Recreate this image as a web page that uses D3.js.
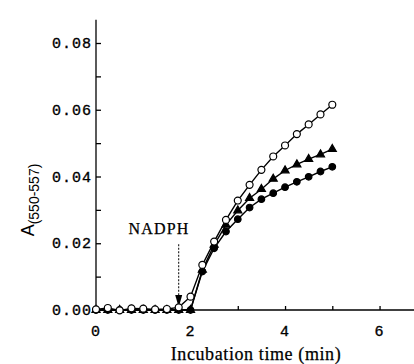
<!DOCTYPE html>
<html>
<head>
<meta charset="utf-8">
<script src="https://cdn.jsdelivr.net/npm/d3@7"></script>
<style>
  body { margin: 0; background: #fff; }
  svg { display: block; }
  .tick-num { font-family: "Liberation Mono", "DejaVu Sans Mono", monospace; font-size: 15px; letter-spacing: 1px; stroke: #000; stroke-width: 0.35px; }
  .serif { font-family: "Liberation Serif", "Times New Roman", serif; stroke: #000; stroke-width: 0.25px; }
</style>
</head>
<body>
<div id="chart"></div>
<script>
;(function (window, document, undefined) {

  'use strict';

  // incubation time (min), one point every 0.25 min
  var times = [0, 0.25, 0.5, 0.75, 1, 1.25, 1.5, 1.75, 2, 2.25, 2.5, 2.75,
               3, 3.25, 3.5, 3.75, 4, 4.25, 4.5, 4.75, 5];

  var openCircles = [0.0002, 0.0006, -0.0001, 0.0005, 0.0004, 0.0002, 0.0003, 0.0008,
                     0.004, 0.0135, 0.0205, 0.027, 0.0328, 0.0375, 0.042, 0.046,
                     0.0493, 0.0527, 0.0556, 0.0586, 0.0615];

  var triangles = [0, 0, 0, 0, 0, 0, 0, 0,
                   0, 0.012, 0.0195, 0.0255, 0.0298, 0.0335, 0.0362, 0.0393,
                   0.0418, 0.0436, 0.0452, 0.0466, 0.0482];

  var filledCircles = [0, 0, 0, 0, 0, 0, 0, 0,
                       0, 0.0115, 0.0185, 0.0235, 0.0272, 0.0307, 0.0332, 0.035,
                       0.0368, 0.0384, 0.0399, 0.0415, 0.0429];

  var yTicks = [0, 0.02, 0.04, 0.06, 0.08];
  var yMinor = [0.01, 0.03, 0.05, 0.07];
  var xTicks = [0, 2, 4, 6];
  var xMinor = [1, 3, 5];

  var W = 414, H = 364;
  var x = d3.scaleLinear().domain([0, 6.75]).range([96, 415]);
  var y = d3.scaleLinear().domain([0, 0.08]).range([310, 43]);

  var svg = d3.select('#chart').append('svg')
    .attr('width', W).attr('height', H);

  // axes, ticks pointing inward
  var yAxis = d3.axisRight(y)
    .tickValues(yTicks.concat(yMinor))
    .tickSize(5)
    .tickFormat('');
  svg.append('g').attr('transform', 'translate(' + x(0) + ',0)').call(yAxis)
    .call(function (g) { g.select('.domain').attr('d', 'M0,' + y(0.087) + 'V' + y(0)); });

  var xAxis = d3.axisTop(x)
    .tickValues(xTicks.concat(xMinor))
    .tickSize(4)
    .tickFormat('');
  svg.append('g').attr('transform', 'translate(0,' + y(0) + ')').call(xAxis)
    .call(function (g) { g.select('.domain').attr('d', 'M' + x(0) + ',0H' + W); });

  svg.selectAll('path.domain, .tick line')
    .attr('stroke', '#000').attr('stroke-width', 1.3);

  svg.selectAll('text.ylab').data(yTicks).enter().append('text')
    .attr('class', 'tick-num ylab')
    .attr('x', x(0) - 4).attr('y', function (d) { return y(d) + 5; })
    .attr('text-anchor', 'end')
    .text(function (d) { return d3.format('.2f')(d); });

  svg.selectAll('text.xlab').data(xTicks).enter().append('text')
    .attr('class', 'tick-num xlab')
    .attr('x', function (d) { return x(d); }).attr('y', 336)
    .attr('text-anchor', 'middle')
    .text(function (d) { return d; });

  svg.append('text').attr('class', 'serif')
    .attr('x', 256).attr('y', 360)
    .attr('text-anchor', 'middle')
    .style('font-size', '18px')
    .style('letter-spacing', '0.6px')
    .text('Incubation time (min)');

  var yt = svg.append('text')
    .attr('transform', 'translate(34,200) rotate(-90)')
    .attr('text-anchor', 'middle')
    .style('font-family', '"Liberation Sans", Arial, sans-serif');
  yt.append('tspan').style('font-size', '18px').text('A');
  yt.append('tspan').attr('dy', 5).style('font-size', '14px').text('(550-557)');

  // NADPH annotation
  svg.append('text').attr('class', 'serif')
    .attr('x', 159).attr('y', 234)
    .attr('text-anchor', 'middle')
    .style('font-size', '16px')
    .style('letter-spacing', '1.2px')
    .text('NADPH');
  svg.append('line')
    .attr('x1', x(1.75)).attr('x2', x(1.75))
    .attr('y1', y(0.02) + 1).attr('y2', y(0.004))
    .attr('stroke', '#000').attr('stroke-width', 1)
    .attr('stroke-dasharray', '2,1.5');
  svg.append('path')
    .attr('d', 'M' + (x(1.75) - 3.5) + ',' + y(0.0045) + 'L' + (x(1.75) + 3.5) + ',' + y(0.0045) +
               'L' + x(1.75) + ',' + y(0.0008) + 'Z')
    .attr('fill', '#000');

  var line = d3.line()
    .x(function (d) { return x(d[0]); })
    .y(function (d) { return y(d[1]); });

  function pairs(vals) {
    return times.map(function (t, i) { return [t, vals[i]]; });
  }

  var series = [
    { values: pairs(filledCircles), symbol: d3.symbolCircle, size: 34, fill: '#000' },
    { values: pairs(triangles), symbol: d3.symbolTriangle, size: 28, fill: '#000' },
    { values: pairs(openCircles), symbol: d3.symbolCircle, size: 38, fill: '#fff' }
  ];

  series.forEach(function (s) {
    svg.append('path').datum(s.values)
      .attr('d', line)
      .attr('fill', 'none').attr('stroke', '#000').attr('stroke-width', 1.4);
  });

  series.forEach(function (s) {
    svg.append('g').selectAll('path').data(s.values).enter().append('path')
      .attr('transform', function (d) { return 'translate(' + x(d[0]) + ',' + y(d[1]) + ')'; })
      .attr('d', d3.symbol().type(s.symbol).size(s.size))
      .attr('fill', s.fill).attr('stroke', '#000').attr('stroke-width', 1.2);
  });

})(window, document);
</script>
</body>
</html>
